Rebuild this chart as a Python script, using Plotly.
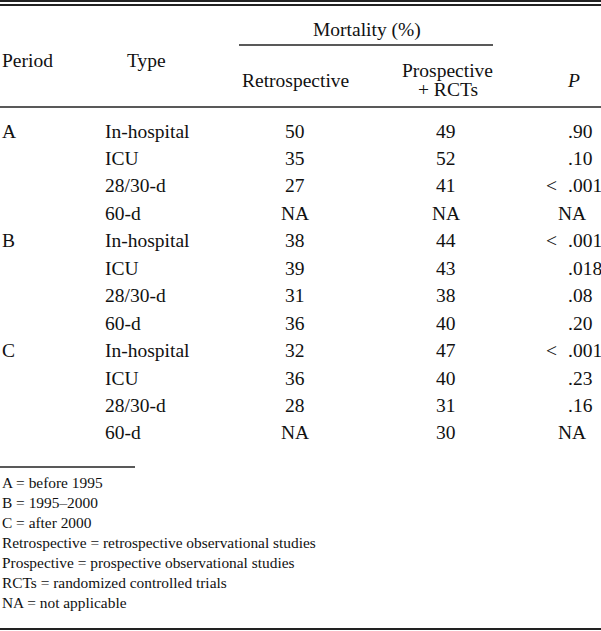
import plotly.graph_objects as go

periods = ["A", "", "", "", "B", "", "", "", "C", "", "", ""]
types = ["In-hospital", "ICU", "28/30-d", "60-d"] * 3
retrospective = ["50", "35", "27", "NA", "38", "39", "31", "36", "32", "36", "28", "NA"]
prospective = ["49", "52", "41", "NA", "44", "43", "38", "40", "47", "40", "31", "30"]
p_values = [".90", ".10", "< .001", "NA", "< .001", ".018", ".08", ".20", "< .001", ".23", ".16", "NA"]
footnotes = [
    "A = before 1995",
    "B = 1995–2000",
    "C = after 2000",
    "Retrospective = retrospective observational studies",
    "Prospective = prospective observational studies",
    "RCTs = randomized controlled trials",
    "NA = not applicable",
]

W, H = 601, 631
FONT = "Liberation Serif"
FS = 19.5
FS_NOTE = 15.4
COL = "#111111"
LINE = "#222222"

fig = go.Figure()
ann = []


def txt(x, y, s, anchor="center", size=FS, italic=False):
    ann.append(dict(
        x=x, y=y, xref="x", yref="y", text=(f"<i>{s}</i>" if italic else s),
        showarrow=False, xanchor=anchor, yanchor="middle",
        font=dict(family=FONT, size=size, color=COL),
    ))


# headers
txt(0, 60, "Period", "left")
txt(146, 60, "Type")
txt(367, 30, "Mortality (%)")
txt(295, 80, "Retrospective")
txt(447, 70, "Prospective")
txt(448, 89, "+ RCTs")
txt(573, 80, "P", italic=True)

# body
row0, dy = 131, 27.45
for i in range(len(types)):
    y = row0 + i * dy
    if periods[i]:
        txt(0, y, periods[i], "left")
    txt(103, y, types[i], "left")
    txt(295, y, retrospective[i])
    txt(446, y, prospective[i])
    p = p_values[i]
    if p == "NA":
        txt(572, y, p)
    elif p.startswith("<"):
        txt(559, y, "<", "right")
        txt(566, y, p[1:].strip(), "left")
    else:
        txt(566, y, p, "left")

# footnotes
for j, f in enumerate(footnotes):
    txt(0, 482 + j * 20, f, "left", size=FS_NOTE)

shapes = []


def hline(x0, x1, y, w):
    shapes.append(dict(type="line", xref="x", yref="y", x0=x0, x1=x1, y0=y, y1=y,
                       line=dict(color=LINE, width=w)))


hline(0, W, 1, 2)
hline(0, W, 5, 2)
hline(239, 493, 45, 1.5)
hline(0, W, 107, 1.5)
hline(0, 135, 467, 1.5)
hline(0, W, 629, 2)

fig.update_layout(
    width=W, height=H,
    margin=dict(l=0, r=0, t=0, b=0),
    paper_bgcolor="white", plot_bgcolor="white",
    xaxis=dict(range=[0, W], visible=False, fixedrange=True),
    yaxis=dict(range=[H, 0], visible=False, fixedrange=True),
    annotations=ann, shapes=shapes, showlegend=False,
)

fig.write_html(
    "out.html",
    config={"displayModeBar": False},
    post_script="document.body.style.margin='0';document.body.style.overflow='hidden';",
)
